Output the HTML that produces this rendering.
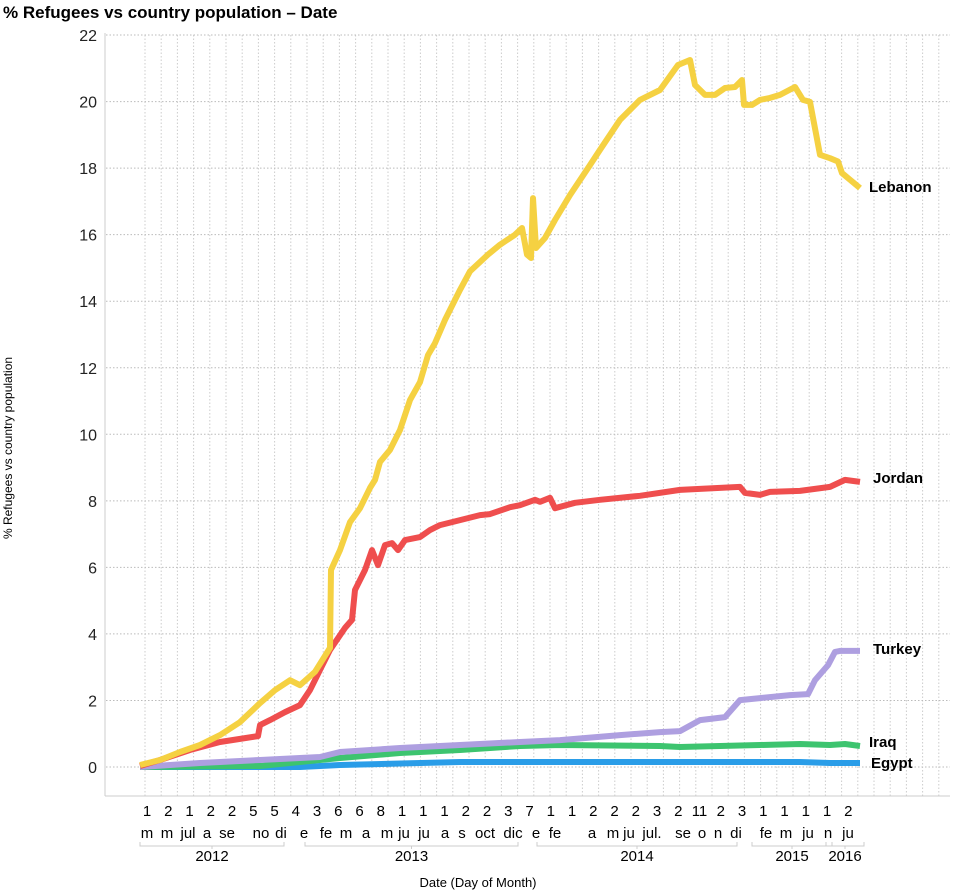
<!DOCTYPE html>
<html><head><meta charset="utf-8"><style>
body{margin:0;background:#fff;font-family:"Liberation Sans",sans-serif;}
svg{display:block}
</style></head><body>
<svg id="chart" width="957" height="891">
<text x="3" y="18" font-size="17" font-weight="bold" fill="#000">% Refugees vs country population – Date</text>
<g id="grid"></g><g id="axes"></g><g id="series"></g><g id="labels"></g>
<text x="478" y="887" font-size="13" text-anchor="middle">Date (Day of Month)</text>
<text transform="translate(12,448) rotate(-90)" font-size="12" text-anchor="middle">% Refugees vs country population</text>
</svg>
<script>
const yTicks=[0,2,4,6,8,10,12,14,16,18,20,22];
const dayLabels=["1","2","1","2","2","5","5","4","3","6","6","8","1","1","1","2","2","3","7","1","1","2","2","2","3","2","11","2","3","1","1","1","1","2"];
const monthLabels=["m","m","jul","a","se","no","di","e","fe","m","a","m","ju","ju","a","s","oct","dic","e","fe","a","m","ju","jul.","se","o","n","di","fe","m","ju","n","ju"];
const monthDays=[14,54,96,134,174,242,282,328,372,412,452,494,528,568,610,644,690,746,792,830,904,946,978,1024,1086,1124,1156,1192,1252,1292,1336,1376,1416];
const years=["2012","2013","2014","2015","2016"];
const yearStart=[0,330,794,1224,1372];
const yearEnd=[288,756,1194,1384,1448];
const lebDays=[0,40,80,120,160,200,240,270,300,320,350,380,382,400,420,440,460,470,480,500,520,540,560,576,590,610,640,660,696,720,750,764,774,782,786,792,810,830,860,900,920,960,1000,1040,1076,1100,1110,1130,1150,1170,1190,1204,1208,1224,1240,1260,1280,1310,1326,1340,1360,1380,1396,1404,1440];
const lebVals=[0.06,0.21,0.45,0.66,0.96,1.35,1.92,2.31,2.61,2.46,2.86,3.58,5.92,6.52,7.36,7.78,8.39,8.63,9.17,9.53,10.13,11.03,11.57,12.38,12.74,13.44,14.34,14.9,15.4,15.7,16.0,16.2,15.4,15.3,17.1,15.6,15.9,16.44,17.19,18.09,18.55,19.45,20.05,20.35,21.1,21.25,20.5,20.2,20.2,20.41,20.44,20.65,19.9,19.9,20.05,20.11,20.2,20.44,20.05,19.99,18.4,18.3,18.2,17.85,17.4];
const jorDays=[0,40,100,160,236,240,260,290,320,340,360,380,410,424,430,450,464,476,490,504,516,530,560,580,600,640,680,700,740,760,790,800,820,830,870,920,1000,1080,1160,1200,1210,1240,1260,1320,1380,1410,1440];
const jorVals=[0.03,0.21,0.51,0.75,0.93,1.26,1.41,1.65,1.86,2.31,2.92,3.52,4.18,4.42,5.32,5.92,6.52,6.07,6.67,6.73,6.52,6.82,6.91,7.12,7.27,7.42,7.57,7.6,7.81,7.87,8.03,7.97,8.09,7.78,7.94,8.03,8.15,8.33,8.39,8.42,8.24,8.18,8.27,8.3,8.42,8.63,8.57];
const turDays=[0,120,240,360,400,520,640,760,840,960,1040,1080,1120,1170,1200,1240,1300,1336,1350,1376,1390,1400,1440];
const turVals=[0,0.12,0.21,0.3,0.45,0.57,0.66,0.75,0.81,0.96,1.05,1.08,1.41,1.5,2.01,2.07,2.16,2.19,2.61,3.06,3.46,3.49,3.49];
const iraDays=[0,240,400,520,640,700,760,840,1040,1080,1160,1240,1320,1380,1410,1440];
const iraVals=[0,0.03,0.27,0.42,0.51,0.57,0.63,0.66,0.63,0.6,0.63,0.66,0.69,0.66,0.69,0.63];
const egyDays=[0,320,400,640,920,1320,1380,1440];
const egyVals=[0,0,0.06,0.15,0.15,0.15,0.12,0.12];
const names=["Lebanon","Jordan","Turkey","Iraq","Egypt"];

const NS="http://www.w3.org/2000/svg";
const X=d=>140+d/2, Y=v=>767-v*33.27;
function mk(tag,attrs,parent){const e=document.createElementNS(NS,tag);for(const k in attrs)e.setAttribute(k,attrs[k]);parent.appendChild(e);return e;}
const grid=document.getElementById('grid'),axes=document.getElementById('axes'),ser=document.getElementById('series'),lab=document.getElementById('labels');
for(let x=145;x<950;x+=16.2){const l=mk('line',{x1:x,x2:x,y1:35,y2:796,stroke:'#ccc','stroke-dasharray':'1.5,2'},grid);

}
yTicks.forEach(v=>{const l=mk('line',{x1:106,x2:950,y1:Y(v),y2:Y(v),stroke:'#bbb','stroke-dasharray':'1.5,2'},grid);


const t=mk('text',{x:97,y:Y(v)+6,'font-size':16,'text-anchor':'end',fill:'#222'},axes);t.textContent=v;

});
mk('line',{x1:105,x2:105,y1:33,y2:796,stroke:'#ccc'},axes);
mk('line',{x1:105,x2:950,y1:796,y2:796,stroke:'#ccc'},axes);
dayLabels.forEach((s,i)=>{const t=mk('text',{x:147+i*21.25,y:816,'font-size':15,'text-anchor':'middle'},axes);t.textContent=s;

});
monthLabels.forEach((s,i)=>{const t=mk('text',{x:X(monthDays[i]),y:838,'font-size':15,'text-anchor':'middle'},axes);t.textContent=s;

});
years.forEach((s,i)=>{const a=X(yearStart[i]),b=X(yearEnd[i]);
mk('path',{d:`M${a},842V846H${b}V842M${(a+b)/2},846V849`,fill:'none',stroke:'#ccc'},axes);
const t=mk('text',{x:(a+b)/2,y:861,'font-size':15,'text-anchor':'middle'},axes);t.textContent=s;

});
const all=[[egyDays,egyVals,'#2a9de8'],[iraDays,iraVals,'#3dc46f'],[turDays,turVals,'#ae9fe0'],[jorDays,jorVals,'#ef4e4e'],[lebDays,lebVals,'#f5d142']];
const nm=['egypt-line','iraq-line','turkey-line','jordan-line','lebanon-line'];
all.forEach((s,k)=>{const d=s[0].map((dd,i)=>(i?'L':'M')+X(dd).toFixed(1)+','+Y(s[1][i]).toFixed(1)).join('');
const p=mk('path',{d:d,fill:'none',stroke:s[2],'stroke-width':6,'stroke-linejoin':'round'},ser);

});
const endSets=[lebVals,jorVals,turVals,iraVals,egyVals];
const lx=[869,873,873,869,871],dy=[4,1,3,1,5];
names.forEach((n,i)=>{const v=endSets[i][endSets[i].length-1];
const t=mk('text',{x:lx[i],y:Y(v)+dy[i],'font-size':15,'font-weight':'bold'},lab);t.textContent=n;

});
</script>
</body></html>
